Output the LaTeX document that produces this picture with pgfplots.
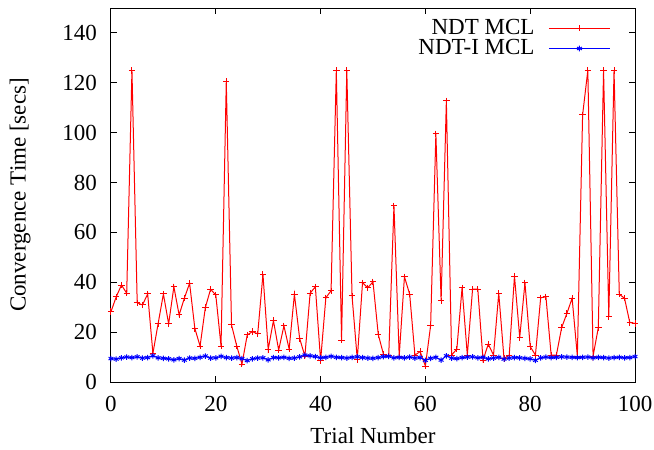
\documentclass[border=0pt]{standalone}
\usepackage{fontspec}
\setmainfont{Liberation Serif}
\usepackage{pgfplots}
\pgfplotsset{compat=1.18}

\pgfplotstableread{
x y
0 28.2
1 34.2
2 38.9
3 35.6
4 125.0
5 31.8
6 30.9
7 35.3
8 11.5
9 23.5
10 35.3
11 23.3
12 38.2
13 26.9
14 33.6
15 39.6
16 21.5
17 14.4
18 29.8
19 37.2
20 34.9
21 14.4
22 120.5
23 22.9
24 14.4
25 7.2
26 18.9
27 20.2
28 19.3
29 43.2
30 13.1
31 24.6
32 12.8
33 22.5
34 13.2
35 35.2
36 17.5
37 10.4
38 35.6
39 38.2
40 8.6
41 33.8
42 36.6
43 125.0
44 16.8
45 125.0
46 34.5
47 9.1
48 39.8
49 37.8
50 40.2
51 19.1
52 11.1
53 10.5
54 70.7
55 10.4
56 42.2
57 35.2
58 10.8
59 12.2
60 6.4
61 22.7
62 99.5
63 32.6
64 112.8
65 10.8
66 13.2
67 37.8
68 10.8
69 37.2
70 37.2
71 8.8
72 15.2
73 10.8
74 35.6
75 9.4
76 10.8
77 42.5
78 17.8
79 39.8
80 14.2
81 10.8
82 33.8
83 34.2
84 10.8
85 10.8
86 21.8
87 27.5
88 33.6
89 10.4
90 107.1
91 125.0
92 10.4
93 21.8
94 125.0
95 26.2
96 125.0
97 35.2
98 33.6
99 23.9
100 23.5
}\ndt

\pgfplotstableread{
x y
0 9.4
1 9.2
2 9.7
3 10.0
4 9.8
5 10.1
6 9.6
7 9.8
8 10.5
9 9.7
10 9.5
11 9.3
12 8.9
13 9.4
14 8.8
15 9.6
16 9.5
17 9.9
18 10.4
19 9.6
20 9.7
21 10.3
22 9.8
23 9.6
24 9.8
25 9.4
26 8.6
27 9.3
28 9.6
29 9.7
30 8.9
31 9.8
32 9.7
33 9.9
34 9.5
35 9.6
36 10.1
37 10.8
38 10.5
39 10.2
40 9.7
41 9.9
42 10.3
43 9.9
44 9.8
45 9.6
46 9.9
47 10.1
48 9.8
49 9.6
50 9.5
51 9.8
52 10.2
53 10.3
54 9.7
55 9.9
56 9.7
57 10.0
58 9.6
59 9.8
60 8.7
61 9.5
62 9.9
63 8.8
64 10.5
65 9.6
66 9.4
67 9.8
68 10.0
69 10.1
70 9.7
71 9.9
72 9.3
73 9.6
74 9.9
75 9.2
76 9.6
77 9.8
78 9.7
79 9.5
80 9.3
81 8.7
82 9.7
83 10.0
84 9.8
85 9.9
86 10.1
87 10.0
88 9.9
89 9.8
90 9.9
91 10.0
92 9.7
93 9.9
94 9.8
95 9.6
96 9.8
97 9.9
98 9.7
99 9.8
100 10.2
}\ndti

\begin{document}
\begin{tikzpicture}
\useasboundingbox (-55.5pt,-34pt) rectangle (271.5pt,191pt);
\begin{axis}[
    at={(0pt,0pt)}, anchor=south west,
    scale only axis,
    width=262pt, height=187pt,
    xmin=0, xmax=100, ymin=0, ymax=150,
    xtick={0,20,...,100},
    ytick={0,20,...,140},
    tick align=inside,
    major tick length=3pt,
    tick style={black, line width=0.5pt},
    axis line style={line width=0.5pt},
    font=\fontsize{11.5}{13.8}\selectfont,
    /pgf/number format/assume math mode=true,
    xticklabel style={yshift=-3.5pt},
    yticklabel style={xshift=-3.5pt},
    xlabel={Trial Number},
    ylabel={Convergence Time [secs]},
    xlabel style={yshift=-1pt},
    ylabel style={yshift=9pt},
    legend cell align=right,
    legend plot pos=right,
    legend style={draw=none, fill=none, at={(0.954,0.974)}, anchor=north east,
        row sep=0pt, inner sep=0pt,
        nodes={inner xsep=7pt, inner ysep=0.5pt}},
    legend image code/.code={
        \draw[mark repeat=2,mark phase=2] plot coordinates {(0pt,0pt)(15.25pt,0pt)(30.5pt,0pt)};
    },
]
\addplot[red, line width=0.5pt, mark=+, mark size=1.6pt] table {\ndt};
\addlegendentry{NDT MCL}
\addplot[blue, line width=0.5pt, mark=asterisk, mark size=1.4pt] table {\ndti};
\addlegendentry{NDT-I MCL}
\end{axis}
\end{tikzpicture}
\end{document}
